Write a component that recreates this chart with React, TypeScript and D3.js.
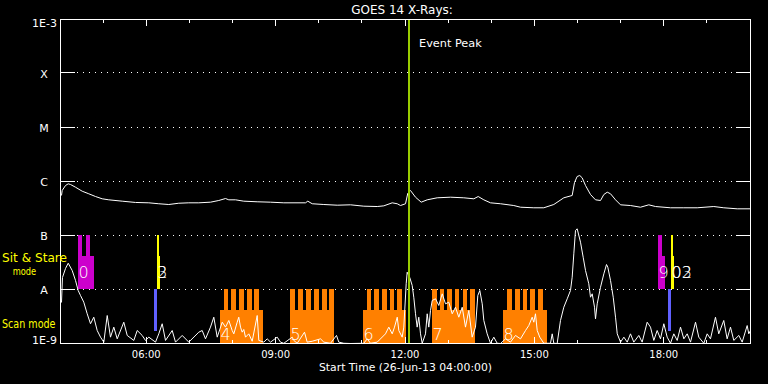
import React from "react";
import * as d3 from "d3";

// ---------- data ----------
const TITLE = "GOES 14 X-Rays:";
const X_TITLE = "Start Time (26-Jun-13 04:00:00)";
const EVENT_LABEL = "Event Peak";
const timeDomain: [number, number] = [4, 20]; // hours on 26-Jun-13
const fluxDomain: [number, number] = [1e-9, 1e-3]; // W/m^2
const classLabels = ["X", "M", "C", "B", "A"];
const classFlux = [1e-4, 1e-5, 1e-6, 1e-7, 1e-8];
const edgeLabels = ["1E-3", "1E-9"];
const hourTicks = [5, 6, 7, 8, 9, 10, 11, 12, 13, 14, 15, 16, 17, 18, 19];
const labeledHours = [6, 9, 12, 15, 18];
const labeledHourText = ["06:00", "09:00", "12:00", "15:00", "18:00"];
const eventPeakHour = 12.093;
const modeLabels = ["Sit & Stare", "mode", "Scan mode"];

// GOES long channel (1-8 A): [hour, flux]
const longChannel: [number, number][] = [
  [4.023, 5.51e-7], [4.039, 6.81e-7], [4.116, 8.43e-7], [4.179, 9.06e-7], [4.232, 8.8e-7],
  [4.348, 7.84e-7], [4.503, 6.61e-7], [4.656, 5.92e-7], [4.812, 5.27e-7], [4.967, 4.78e-7],
  [5.12, 4.58e-7], [5.431, 4.32e-7], [5.739, 4.09e-7], [6.048, 4.03e-7], [6.279, 3.87e-7],
  [6.511, 3.75e-7], [6.743, 3.96e-7], [6.975, 4.03e-7], [7.207, 4.03e-7], [7.478, 4.14e-7],
  [7.671, 4.45e-7], [7.826, 4.84e-7], [7.903, 4.58e-7], [8.058, 4.58e-7], [8.25, 4.32e-7],
  [8.561, 4.21e-7], [8.87, 4.14e-7], [9.178, 4.03e-7], [9.681, 4.03e-7], [9.734, 4.32e-7],
  [9.837, 3.87e-7], [10.106, 3.75e-7], [10.416, 3.64e-7], [10.725, 3.7e-7], [11.033, 3.49e-7],
  [11.344, 3.44e-7], [11.497, 3.54e-7], [11.692, 4.03e-7], [11.808, 3.87e-7], [11.884, 3.59e-7],
  [12.0, 3.87e-7], [12.053, 6.07e-7], [12.116, 6.81e-7], [12.232, 5.12e-7], [12.364, 4.14e-7],
  [12.503, 4.58e-7], [12.735, 4.99e-7], [13.043, 5.12e-7], [13.352, 4.99e-7], [13.584, 4.78e-7],
  [13.686, 5.27e-7], [13.816, 4.58e-7], [13.971, 4.03e-7], [14.203, 3.87e-7], [14.511, 3.59e-7],
  [14.667, 3.34e-7], [14.975, 3.26e-7], [15.207, 3.26e-7], [15.439, 3.75e-7], [15.671, 4.99e-7],
  [15.865, 5.51e-7], [15.919, 9.58e-7], [15.981, 1.24e-6], [16.042, 1.29e-6], [16.097, 1.17e-6],
  [16.174, 8.43e-7], [16.29, 5.74e-7], [16.406, 4.58e-7], [16.522, 4.45e-7], [16.599, 5.74e-7],
  [16.678, 6.34e-7], [16.754, 5.92e-7], [16.87, 4.58e-7], [16.986, 3.7e-7], [17.217, 3.59e-7],
  [17.449, 3.34e-7], [17.642, 3.7e-7], [17.797, 3.44e-7], [18.145, 3.26e-7], [18.454, 3.26e-7],
  [18.764, 3.26e-7], [19.149, 3.44e-7], [19.381, 3.26e-7], [19.692, 3.12e-7], [20.0, 3.12e-7],
];

// GOES short channel (0.5-4 A): [hour, flux]
const shortChannel: [number, number][] = [
  [4.023, 5.74e-9], [4.046, 1.67e-8], [4.116, 2.45e-8], [4.179, 3.07e-8], [4.271, 2.25e-8],
  [4.348, 1.47e-8], [4.41, 9.58e-9], [4.464, 7.75e-9], [4.54, 5.82e-9], [4.619, 3.55e-9],
  [4.696, 2.32e-9], [4.772, 3.07e-9], [4.851, 1.74e-9], [4.928, 1.31e-9], [5.004, 1.06e-9],
  [5.083, 3.3e-9], [5.159, 1.31e-9], [5.236, 2.01e-9], [5.315, 1.22e-9], [5.468, 2.48e-9],
  [5.547, 1.41e-9], [5.7, 1.14e-9], [5.779, 1.74e-9], [5.894, 1.41e-9], [5.971, 1.14e-9],
  [6.048, 1.31e-9], [6.203, 1.06e-9], [6.279, 1.51e-9], [6.358, 2.32e-9], [6.435, 1.14e-9],
  [6.59, 1.74e-9], [6.667, 1.06e-9], [6.822, 1.41e-9], [6.975, 1.06e-9], [7.207, 1.62e-9],
  [7.286, 1.74e-9], [7.362, 1.22e-9], [7.478, 2.01e-9], [7.555, 3.07e-9], [7.634, 1.31e-9],
  [7.75, 2.48e-9], [7.826, 2.01e-9], [7.903, 2.67e-9], [7.981, 1.74e-9], [8.019, 1.51e-9],
  [8.097, 2.48e-9], [8.134, 3.07e-9], [8.174, 2.01e-9], [8.213, 1.62e-9], [8.25, 1.82e-9],
  [8.29, 1.31e-9], [8.366, 1.51e-9], [8.445, 1.1e-9], [8.561, 3.3e-9], [8.598, 1.14e-9],
  [8.714, 1.06e-9], [8.793, 1.22e-9], [8.87, 1.06e-9], [9.025, 1.31e-9], [9.101, 1.06e-9],
  [9.178, 1.01e-9], [9.373, 1.31e-9], [9.41, 1.14e-9], [9.489, 1.01e-9], [9.658, 1.62e-9],
  [9.72, 1.06e-9], [9.837, 1.1e-9], [10.029, 1.22e-9], [10.106, 1.06e-9], [10.261, 1.01e-9],
  [10.4, 1.41e-9], [10.453, 1.06e-9], [10.569, 1.01e-9], [10.725, 1.0e-9], [11.033, 1.01e-9],
  [11.112, 1.22e-9], [11.188, 1.01e-9], [11.344, 1.06e-9], [11.536, 1.51e-9], [11.613, 2.01e-9],
  [11.692, 1.51e-9], [11.745, 2.01e-9], [11.808, 3.07e-9], [11.845, 1.74e-9], [11.923, 1.31e-9],
  [11.961, 2.01e-9], [12.016, 1.28e-8], [12.039, 2.09e-8], [12.1, 1.65e-8], [12.155, 1.19e-8],
  [12.192, 7.2e-9], [12.232, 3.55e-9], [12.271, 2.01e-9], [12.308, 3.07e-9], [12.348, 1.51e-9],
  [12.387, 1.01e-9], [12.464, 1.51e-9], [12.503, 3.55e-9], [12.54, 2.01e-9], [12.58, 4.09e-9],
  [12.619, 6.26e-9], [12.696, 6.73e-9], [12.772, 5.06e-9], [12.851, 8.32e-9], [12.928, 5.43e-9],
  [13.004, 5.82e-9], [13.083, 3.55e-9], [13.159, 4.7e-9], [13.236, 3.07e-9], [13.315, 4.7e-9],
  [13.391, 2.01e-9], [13.468, 4.09e-9], [13.546, 1.31e-9], [13.623, 2.01e-9], [13.677, 7.75e-9],
  [13.723, 9.58e-9], [13.779, 5.43e-9], [13.816, 2.67e-9], [13.894, 1.51e-9], [13.971, 1.01e-9],
  [14.048, 1.31e-9], [14.126, 1.01e-9], [14.203, 1.0e-9], [14.319, 1.22e-9], [14.435, 1.06e-9],
  [14.551, 1.41e-9], [14.667, 1.22e-9], [14.783, 1.74e-9], [14.859, 2.15e-9], [14.938, 3.07e-9],
  [14.975, 2.48e-9], [15.014, 3.55e-9], [15.054, 1.74e-9], [15.114, 1.31e-9], [15.207, 1.01e-9],
  [15.362, 1.01e-9], [15.402, 1.51e-9], [15.439, 1.01e-9], [15.517, 1.0e-9], [15.594, 2.67e-9],
  [15.671, 4.7e-9], [15.75, 6.73e-9], [15.826, 9.58e-9], [15.865, 1.69e-8], [15.903, 4.58e-8],
  [15.942, 1.24e-7], [15.981, 1.33e-7], [16.058, 7.52e-8], [16.12, 3.96e-8], [16.174, 2.25e-8],
  [16.25, 1.28e-8], [16.29, 7.2e-9], [16.329, 8.32e-9], [16.383, 4.7e-9], [16.406, 2.86e-9],
  [16.445, 5.43e-9], [16.522, 1.1e-8], [16.599, 1.95e-8], [16.661, 2.9e-8], [16.691, 2.59e-8],
  [16.754, 1.47e-8], [16.817, 7.2e-9], [16.87, 3.07e-9], [16.91, 1.51e-9], [16.986, 1.06e-9],
  [17.064, 1.31e-9], [17.141, 1.06e-9], [17.217, 1.51e-9], [17.294, 1.06e-9], [17.41, 1.41e-9],
  [17.488, 1.06e-9], [17.604, 2.48e-9], [17.681, 2.01e-9], [17.758, 1.14e-9], [17.836, 1.74e-9],
  [17.913, 1.22e-9], [17.99, 2.32e-9], [18.068, 1.31e-9], [18.145, 1.01e-9], [18.222, 1.51e-9],
  [18.3, 1.14e-9], [18.377, 2.01e-9], [18.454, 1.22e-9], [18.532, 1.51e-9], [18.609, 1.06e-9],
  [18.725, 2.48e-9], [18.801, 1.31e-9], [18.917, 1.01e-9], [18.996, 1.51e-9], [19.072, 1.22e-9],
  [19.188, 3.07e-9], [19.264, 1.51e-9], [19.38, 2.67e-9], [19.458, 1.22e-9], [19.536, 2.01e-9],
  [19.613, 1.14e-9], [19.729, 1.41e-9], [19.807, 1.06e-9], [19.923, 2.15e-9], [19.96, 1.51e-9],
  [20.0, 1.74e-9],
];

// Observation timeline
const obsLabel = ["0", "", "2", "3", "4", "5", "6", "7", "8", "9", "", "02", "03"];
const obsKind = ["sitA", "scanB", "sitB", "sitB", "scanA", "scanA", "scanA", "scanA", "scanA", "sitA", "scanB", "sitB", "sitB"];
const obsStart = [4.417, 6.18, 6.242, 6.242, 7.71, 9.333, 11.026, 12.626, 14.272, 17.867, 18.091, 18.168, 18.168];
const obsEnd = [4.788, 6.242, 6.319, 6.319, 8.707, 10.354, 12.016, 13.623, 15.293, 18.022, 18.161, 18.238, 18.238];
const obsRasters: [number, number][][] = [
  [[4.417, 4.51], [4.603, 4.696]],
  [],
  [[6.242, 6.288]],
  [[6.242, 6.288]],
  [[7.803, 7.896], [7.965, 8.081], [8.151, 8.267], [8.336, 8.452], [8.499, 8.614]],
  [[9.333, 9.449], [9.519, 9.635], [9.704, 9.82], [9.89, 10.006], [10.075, 10.191], [10.238, 10.354]],
  [[11.119, 11.212], [11.281, 11.397], [11.467, 11.583], [11.652, 11.745], [11.814, 11.93]],
  [[12.626, 12.735], [12.812, 12.911], [12.974, 13.083], [13.159, 13.259], [13.345, 13.445], [13.507, 13.623]],
  [[14.365, 14.481], [14.551, 14.667], [14.736, 14.829], [14.899, 15.014], [15.084, 15.2]],
  [[17.867, 17.959]],
  [],
  [[18.168, 18.222]],
  [[18.168, 18.222]],
];

// ---------- styles ----------
const FONT = "'DejaVu Sans', sans-serif";
const kindStyle: Record<string, { color: string; band: [number, number]; lowFrac: number; bodyFrac: number; labelOffset: number }> = {
  sitA: { color: "#cc00cc", band: [1e-8, 1e-7], lowFrac: 0, bodyFrac: 0.61, labelOffset: 11 },
  sitB: { color: "#ffff00", band: [1e-8, 1e-7], lowFrac: 0, bodyFrac: 0.61, labelOffset: 11 },
  scanA: { color: "#ff8000", band: [1e-9, 1e-8], lowFrac: 0, bodyFrac: 0.61, labelOffset: 3 },
  scanB: { color: "#6060ff", band: [1e-9, 1e-8], lowFrac: 0.22, bodyFrac: 1, labelOffset: 3 },
};

export default function App() {
  const W = 768, H = 384;
  const x = d3.scaleLinear().domain(timeDomain).range([60, 750]);
  const y = d3.scaleLog().domain(fluxDomain).range([343, 19]).clamp(true);
  const left = 60, right = 750, top = 19, bottom = 343;
  const px = (v: number) => Math.floor(v) + 0.5;

  const line = d3
    .line<[number, number]>()
    .x((d) => x(d[0]) + 0.5)
    .y((d) => y(d[1]) + 0.5);

  const fracFlux = (band: [number, number], f: number) =>
    Math.pow(10, Math.log10(band[0]) + f * (Math.log10(band[1]) - Math.log10(band[0])));

  const bars: React.ReactNode[] = [];
  obsStart.forEach((s, i) => {
    const st = kindStyle[obsKind[i]];
    const e = obsEnd[i];
    const yBase = y(fracFlux(st.band, st.lowFrac));
    const yBody = y(fracFlux(st.band, st.bodyFrac));
    const yTop = y(st.band[1]);
    bars.push(
      <rect key={`b${i}`} x={x(s)} y={yBody} width={x(e) - x(s)} height={yBase - yBody} fill={st.color} shapeRendering="crispEdges" />
    );
    obsRasters[i].forEach((r, j) => {
      bars.push(
        <rect key={`r${i}-${j}`} x={x(r[0])} y={yTop} width={x(r[1]) - x(r[0])} height={y(st.band[0]) - yTop} fill={st.color} shapeRendering="crispEdges" />
      );
    });
    if (obsLabel[i]) {
      bars.push(
        <text key={`l${i}`} x={x(s) + 0.5} y={y(st.band[0]) - st.labelOffset} fill="#fff" fontSize={16} fontFamily={FONT} fontWeight={300}>
          {obsLabel[i]}
        </text>
      );
    }
  });

  return (
    <svg width={W} height={H} style={{ position: "fixed", left: 0, top: 0, display: "block", background: "#000" }}>
      <rect x={0} y={0} width={W} height={H} fill="#000" />
      {/* title */}
      <text x={402} y={14} fill="#fff" fontSize={12} fontFamily={FONT} textAnchor="middle">{TITLE}</text>

      {/* grid (class levels) */}
      {classFlux.map((f, i) => (
        <g key={`g${i}`} shapeRendering="crispEdges">
          <line x1={left + 17} x2={right - 14} y1={px(y(f))} y2={px(y(f))} stroke="#fff" strokeWidth={1} strokeDasharray="1 5" />
          <line x1={left} x2={left + 15} y1={px(y(f))} y2={px(y(f))} stroke="#fff" strokeWidth={1} />
          <line x1={right - 14} x2={right} y1={px(y(f))} y2={px(y(f))} stroke="#fff" strokeWidth={1} />
          <text x={44} y={y(f) + 4.5} fill="#fff" fontSize={11} fontFamily={FONT} textAnchor="middle">{classLabels[i]}</text>
        </g>
      ))}

      {/* observation bars */}
      {bars}

      {/* light curves */}
      <path d={line(longChannel) || ""} fill="none" stroke="#fff" strokeWidth={1} />
      <path d={line(shortChannel) || ""} fill="none" stroke="#fff" strokeWidth={1} />

      {/* event peak */}
      <rect x={x(eventPeakHour) - 1} y={top} width={2} height={bottom - top + 1} fill="#99cc00" shapeRendering="crispEdges" />
      <text x={x(eventPeakHour) + 10} y={46.5} fill="#fff" fontSize={11.3} fontFamily={FONT}>{EVENT_LABEL}</text>

      {/* frame */}
      <rect x={left + 0.5} y={top + 0.5} width={right - left} height={bottom - top} fill="none" stroke="#fff" strokeWidth={1} shapeRendering="crispEdges" />

      {/* x ticks */}
      {hourTicks.map((h) => {
        const major = labeledHours.includes(h);
        const len = major ? 7 : 4;
        return (
          <g key={`t${h}`} shapeRendering="crispEdges">
            <line x1={px(x(h))} x2={px(x(h))} y1={top} y2={top + len} stroke="#fff" />
            <line x1={px(x(h))} x2={px(x(h))} y1={bottom + 1} y2={bottom + 1 - len} stroke="#fff" />
          </g>
        );
      })}
      {labeledHours.map((h, i) => (
        <text key={`xl${h}`} x={x(h)} y={358} fill="#fff" fontSize={10} fontFamily={FONT} textAnchor="middle">{labeledHourText[i]}</text>
      ))}
      <text x={405.5} y={371} fill="#fff" fontSize={11} fontFamily={FONT} textAnchor="middle" textLength={173} lengthAdjust="spacingAndGlyphs">{X_TITLE}</text>

      {/* y edge labels */}
      <text x={57} y={27} fill="#fff" fontSize={11} fontFamily={FONT} textAnchor="end">{edgeLabels[0]}</text>
      <text x={57} y={343.5} fill="#fff" fontSize={11} fontFamily={FONT} textAnchor="end">{edgeLabels[1]}</text>

      {/* mode labels */}
      <text x={2} y={262} fill="#ffff00" fontSize={11.5} fontFamily={FONT} textLength={65} lengthAdjust="spacingAndGlyphs">{modeLabels[0]}</text>
      <text x={12.7} y={275} fill="#ffff00" fontSize={10.5} fontFamily={FONT} textLength={23.5} lengthAdjust="spacingAndGlyphs">{modeLabels[1]}</text>
      <text x={2} y={328.3} fill="#ffff00" fontSize={12} fontFamily={FONT} textLength={53.5} lengthAdjust="spacingAndGlyphs">{modeLabels[2]}</text>
    </svg>
  );
}
